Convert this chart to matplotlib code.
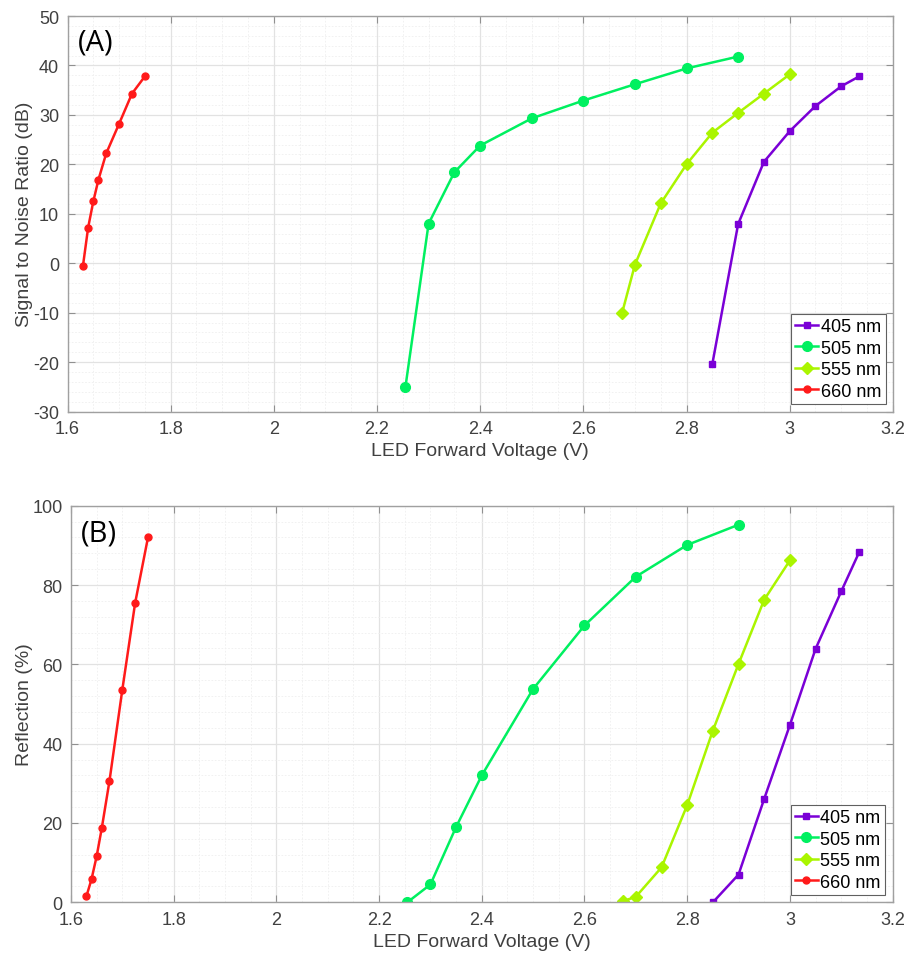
import numpy as np
import matplotlib.pyplot as plt
from matplotlib.ticker import MultipleLocator, FuncFormatter

plt.rcParams['font.family'] = ['Liberation Sans', 'DejaVu Sans']

# (A) signal to noise ratio
v405_a = [2.85, 2.90, 2.95, 3.00, 3.05, 3.10, 3.135]
snr405 = [-20.4, 7.9, 20.5, 26.7, 31.8, 35.8, 37.8]
v505_a = [2.255, 2.30, 2.35, 2.40, 2.50, 2.60, 2.70, 2.80, 2.90]
snr505 = [-25.1, 8.0, 18.4, 23.8, 29.3, 32.9, 36.2, 39.4, 41.8]
v555_a = [2.675, 2.70, 2.75, 2.80, 2.85, 2.90, 2.95, 3.00]
snr555 = [-10.1, -0.3, 12.1, 20.0, 26.4, 30.4, 34.3, 38.2]
v660_a = [1.63, 1.64, 1.65, 1.66, 1.675, 1.70, 1.725, 1.75]
snr660 = [-0.5, 7.2, 12.5, 16.9, 22.2, 28.2, 34.3, 37.8]

# (B) reflection
v405_b = [2.85, 2.90, 2.95, 3.00, 3.05, 3.10, 3.135]
ref405 = [0.0, 7.0, 26.1, 44.7, 63.9, 78.4, 88.3]
v505_b = [2.255, 2.30, 2.35, 2.40, 2.50, 2.60, 2.70, 2.80, 2.90]
ref505 = [0.0, 4.5, 19.0, 32.0, 53.8, 69.8, 82.1, 90.1, 95.2]
v555_b = [2.675, 2.70, 2.75, 2.80, 2.85, 2.90, 2.95, 3.00]
ref555 = [0.3, 1.4, 8.8, 24.5, 43.3, 60.1, 76.3, 86.2]
v660_b = [1.63, 1.64, 1.65, 1.66, 1.675, 1.70, 1.725, 1.75]
ref660 = [1.5, 5.8, 11.6, 18.7, 30.6, 53.6, 75.5, 92.0]

labels = ["405 nm", "505 nm", "555 nm", "660 nm"]
colors = ["#7a00d6", "#00f060", "#aaf500", "#ff1a1a"]
markers = ["s", "o", "D", "o"]
msizes = [5, 7, 6, 5]

txt_col = "#404040"


def fmt(v, pos):
    return "%g" % round(v, 6)


def style_axes(ax, ylim, ymajor):
    ax.set_xlim(1.6, 3.2)
    ax.set_ylim(*ylim)
    ax.xaxis.set_major_locator(MultipleLocator(0.2))
    ax.xaxis.set_minor_locator(MultipleLocator(0.05))
    ax.yaxis.set_major_locator(MultipleLocator(ymajor))
    ax.yaxis.set_minor_locator(MultipleLocator(ymajor / 5))
    ax.xaxis.set_major_formatter(FuncFormatter(fmt))
    ax.yaxis.set_major_formatter(FuncFormatter(fmt))
    ax.grid(which="major", color="#e2e2e2", lw=0.9)
    ax.grid(which="minor", color="#efefef", lw=0.6, ls=(0, (2, 2)))
    ax.set_axisbelow(True)
    ax.tick_params(which="major", direction="in", top=True, right=True,
                   length=5, color="#909090", labelsize=13, labelcolor=txt_col, pad=6)
    ax.tick_params(which="minor", length=0)
    for s in ax.spines.values():
        s.set_color("#a0a0a0")
        s.set_linewidth(1.0)
    ax.set_xlabel("LED Forward Voltage (V)", fontsize=14, color=txt_col, labelpad=4)
    leg = ax.legend(loc="lower right", fontsize=13, fancybox=False, framealpha=1,
                    edgecolor="#606060", handlelength=1.25, handletextpad=0.15,
                    borderpad=0.25, labelspacing=0.25, borderaxespad=0.4)
    leg.get_frame().set_linewidth(0.8)


fig = plt.figure(figsize=(9.11, 9.62), dpi=100)

# top panel
ax1 = fig.add_axes([0.0741, 0.5712, 0.906, 0.4111])
data_a = [(v405_a, snr405), (v505_a, snr505), (v555_a, snr555), (v660_a, snr660)]
for (x, y), lab, c, m, ms in zip(data_a, labels, colors, markers, msizes):
    ax1.plot(x, y, color=c, marker=m, ms=ms, lw=1.8, label=lab)
style_axes(ax1, (-30, 50), 10)
ax1.set_ylabel("Signal to Noise Ratio (dB)", fontsize=14, color=txt_col)
ax1.yaxis.set_label_coords(-0.042, 0.5)
ax1.text(0.012, 0.935, "(A)", transform=ax1.transAxes, fontsize=21,
         family=["Open Sans", "DejaVu Sans"], va="center", ha="left")

# bottom panel
ax2 = fig.add_axes([0.0779, 0.061, 0.9019, 0.4123])
data_b = [(v405_b, ref405), (v505_b, ref505), (v555_b, ref555), (v660_b, ref660)]
for (x, y), lab, c, m, ms in zip(data_b, labels, colors, markers, msizes):
    ax2.plot(x, y, color=c, marker=m, ms=ms, lw=1.8, label=lab)
style_axes(ax2, (0, 100), 20)
ax2.set_ylabel("Reflection (%)", fontsize=14, color=txt_col)
ax2.yaxis.set_label_coords(-0.046, 0.5)
ax2.text(0.012, 0.93, "(B)", transform=ax2.transAxes, fontsize=21,
         family=["Open Sans", "DejaVu Sans"], va="center", ha="left")

fig.savefig("out.png", dpi=100)
